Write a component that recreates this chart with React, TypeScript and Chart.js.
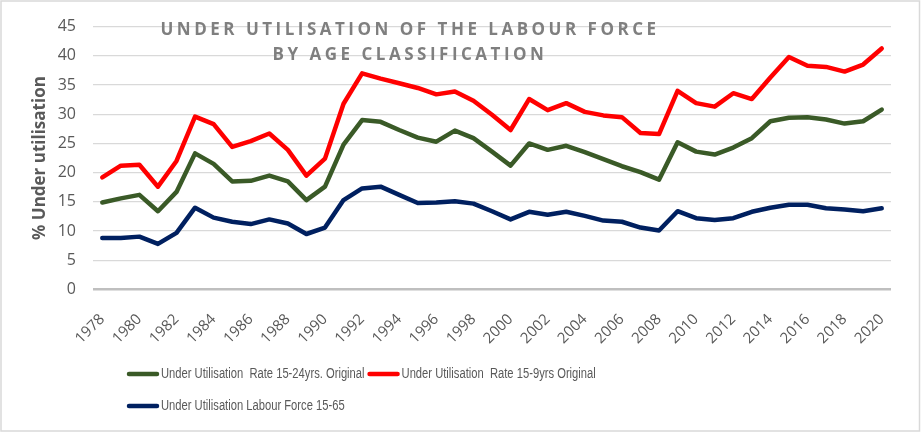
import React, { useEffect, useRef } from "react";
import { Chart, registerables } from "chart.js";

Chart.register(...registerables);

const years: string[] = [
  "1978","1979","1980","1981","1982","1983","1984","1985","1986","1987",
  "1988","1989","1990","1991","1992","1993","1994","1995","1996","1997",
  "1998","1999","2000","2001","2002","2003","2004","2005","2006","2007",
  "2008","2009","2010","2011","2012","2013","2014","2015","2016","2017",
  "2018","2019","2020",
];

const rate15to24: number[] = [
  14.9, 15.6, 16.2, 13.4, 16.7, 23.3, 21.5, 18.5, 18.6, 19.5,
  18.5, 15.3, 17.6, 24.8, 29.0, 28.7, 27.3, 26.0, 25.3, 27.2,
  25.9, 23.6, 21.2, 25.0, 23.9, 24.6, 23.5, 22.3, 21.1, 20.1,
  18.8, 25.2, 23.6, 23.1, 24.3, 25.9, 28.8, 29.4, 29.5, 29.1,
  28.4, 28.8, 30.8,
];

const rate15to19: number[] = [
  19.2, 21.2, 21.35, 17.6, 22.0, 29.6, 28.3, 24.4, 25.4, 26.7,
  23.9, 19.5, 22.4, 31.8, 37.0, 36.1, 35.3, 34.5, 33.4, 33.9,
  32.3, 29.9, 27.3, 32.6, 30.7, 31.9, 30.4, 29.8, 29.5, 26.8,
  26.6, 34.0, 31.9, 31.3, 33.6, 32.6, 36.3, 39.8, 38.3, 38.1,
  37.3, 38.5, 41.25,
];

const labourForce15to65: number[] = [
  8.8, 8.8, 9.05, 7.8, 9.7, 14.0, 12.3, 11.6, 11.2, 12.0,
  11.3, 9.5, 10.6, 15.3, 17.3, 17.6, 16.2, 14.8, 14.9, 15.1,
  14.7, 13.4, 12.0, 13.3, 12.8, 13.3, 12.6, 11.8, 11.6, 10.6,
  10.1, 13.4, 12.2, 11.9, 12.2, 13.3, 14.0, 14.5, 14.5, 13.9,
  13.7, 13.4, 13.9,
];

const seriesLabels: string[] = [
  "Under Utilisation  Rate 15-24yrs. Original",
  "Under Utilisation  Rate 15-9yrs Original",
  "Under Utilisation Labour Force 15-65",
];
const seriesColors: string[] = ["#3a5a27", "#ff0000", "#002060"];

const titleLines: string[] = ["UNDER UTILISATION OF THE LABOUR FORCE", "BY AGE CLASSIFICATION"];
const yAxisTitle = "% Under utilisation";

const decorPlugin = {
  id: "decor",
  afterDraw(chart: any) {
    const ctx: CanvasRenderingContext2D = chart.ctx;
    ctx.save();
    // border
    ctx.strokeStyle = "#d9d9d9";
    ctx.lineWidth = 1.5;
    ctx.strokeRect(1, 1, chart.width - 2.5, chart.height - 3);

    // title
    ctx.fillStyle = "#7f7f7f";
    ctx.font = "bold 17px 'Open Sans'";
    (ctx as any).letterSpacing = "3.5px";
    ctx.textAlign = "center";
    ctx.textBaseline = "middle";
    ctx.fillText(titleLines[0], 410, 30);
    ctx.fillText(titleLines[1], 410, 55);
    (ctx as any).letterSpacing = "0px";

    // legend
    const squeeze = 0.8;
    ctx.font = "14px 'Liberation Sans'";
    ctx.textAlign = "left";
    ctx.textBaseline = "middle";
    const rows = [[0, 1], [2]];
    const rowY = [374, 406];
    rows.forEach((row, r) => {
      let x = 127;
      const y = rowY[r];
      row.forEach((i) => {
        const ds = chart.data.datasets[i];
        ctx.strokeStyle = ds.borderColor;
        ctx.lineWidth = 4.5;
        ctx.lineCap = "round";
        ctx.beginPath();
        ctx.moveTo(x + 2, y);
        ctx.lineTo(x + 30, y);
        ctx.stroke();
        ctx.fillStyle = "#595959";
        ctx.save();
        ctx.translate(x + 34, y);
        ctx.scale(squeeze, 1);
        ctx.fillText(ds.label, 0, 0);
        ctx.restore();
        x += 34 + ctx.measureText(ds.label).width * squeeze + 3;
      });
    });
    ctx.restore();
  },
};

export default function App() {
  const ref = useRef<HTMLCanvasElement | null>(null);
  useEffect(() => {
    if (!ref.current) return;
    const chart = new Chart(ref.current, {
      type: "line",
      data: {
        labels: years,
        datasets: [
          { label: seriesLabels[0], data: rate15to24, borderColor: seriesColors[0], backgroundColor: seriesColors[0] },
          { label: seriesLabels[1], data: rate15to19, borderColor: seriesColors[1], backgroundColor: seriesColors[1] },
          { label: seriesLabels[2], data: labourForce15to65, borderColor: seriesColors[2], backgroundColor: seriesColors[2] },
        ].map((d) => ({
          ...d,
          borderWidth: 4.5,
          pointRadius: 0,
          tension: 0,
          borderJoinStyle: "round" as const,
          borderCapStyle: "round" as const,
          fill: false,
        })),
      },
      options: {
        responsive: false,
        animation: false,
        layout: { padding: { top: 23.5, right: 30, left: 0, bottom: 0 } },
        plugins: {
          legend: { display: false },
          title: { display: false },
          tooltip: { enabled: false },
        },
        scales: {
          x: {
            offset: true,
            grid: { display: false },
            border: { display: false },
            ticks: {
              autoSkip: false,
              maxRotation: 45,
              minRotation: 45,
              padding: 13,
              color: "#595959",
              font: { family: "'Open Sans'", size: 15 },
              callback: (_v: any, i: number) => (i % 2 === 0 ? years[i] : ""),
            },
            afterFit: (s: any) => {
              s.height = 143.5;
            },
          },
          y: {
            min: 0,
            max: 45,
            ticks: {
              stepSize: 5,
              padding: 17,
              color: "#595959",
              font: { family: "'Open Sans'", size: 16 },
            },
            grid: {
              drawTicks: false,
              color: (c: any) => (c.tick && c.tick.value === 0 ? "#bfbfbf" : "#d9d9d9"),
              lineWidth: (c: any) => (c.tick && c.tick.value === 0 ? 2.5 : 1.3),
            },
            border: { display: false },
            title: {
              display: true,
              text: yAxisTitle,
              color: "#595959",
              font: { family: "'Open Sans'", size: 17, weight: "bold" },
              padding: { top: 30, bottom: 0 },
            },
            afterFit: (s: any) => {
              s.width = 93;
            },
          },
        },
      },
      plugins: [decorPlugin],
    });
    return () => chart.destroy();
  }, []);
  return (
    <div style={{ position: "absolute", left: 0, top: 0, width: 921, height: 433, background: "#fff" }}>
      <canvas ref={ref} width={921} height={433} />
    </div>
  );
}
